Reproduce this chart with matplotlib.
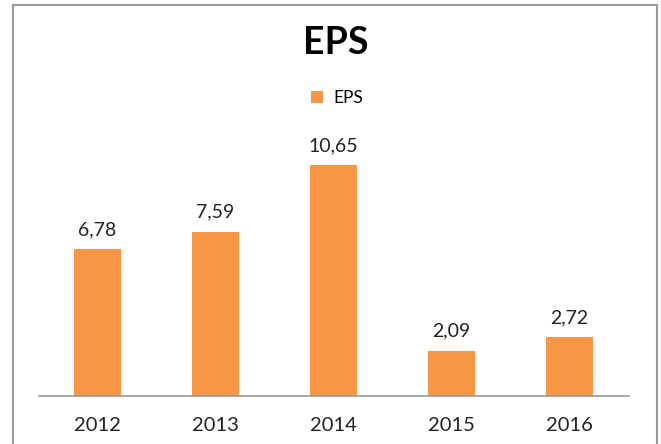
import matplotlib.pyplot as plt
from matplotlib.patches import Rectangle

# data
years = ['2012', '2013', '2014', '2015', '2016']
eps = [6.78, 7.59, 10.65, 2.09, 2.72]
bar_color = '#F79646'

plt.rcParams['font.family'] = ['Lato', 'DejaVu Sans']

fig = plt.figure(figsize=(6.61, 4.44), dpi=100)
ax = fig.add_axes([38.5 / 661, 48 / 444, 590 / 661, 260 / 444])

x = range(len(years))
bars = ax.bar(x, eps, width=0.4, color=bar_color, label='EPS')

for xi, v in zip(x, eps):
    ax.annotate('{:.2f}'.format(v).replace('.', ','), (xi, v),
                xytext=(0, 8), textcoords='offset points',
                ha='center', va='bottom', fontsize=14, color='#222222')

ax.set_xlim(-0.5, len(years) - 0.5)
ax.set_ylim(0, 12)
ax.set_xticks(list(x))
ax.set_xticklabels(years, fontsize=14.5, color='#222222')
ax.tick_params(axis='x', length=0, pad=15)
ax.set_yticks([])
for side in ['top', 'left', 'right']:
    ax.spines[side].set_visible(False)
ax.spines['bottom'].set_color('#999999')
ax.spines['bottom'].set_linewidth(1.2)

fig.text(0.508, 1 - 43 / 444, 'EPS', ha='center', va='center',
         fontsize=27, fontweight='bold', color='black')

fig.legend(handles=[bars], labels=['EPS'], loc='center',
           bbox_to_anchor=(0.51, 1 - 98 / 444), frameon=False,
           fontsize=12.5, handlelength=0.7, handleheight=0.7, handletextpad=0.6)

# chart border
fig.patches.append(Rectangle((13 / 661, -0.1), (657 - 13) / 661, 1.1 - 5 / 444,
                             transform=fig.transFigure, fill=False,
                             edgecolor='#999999', linewidth=1.5))

fig.savefig('out.png', dpi=100)
